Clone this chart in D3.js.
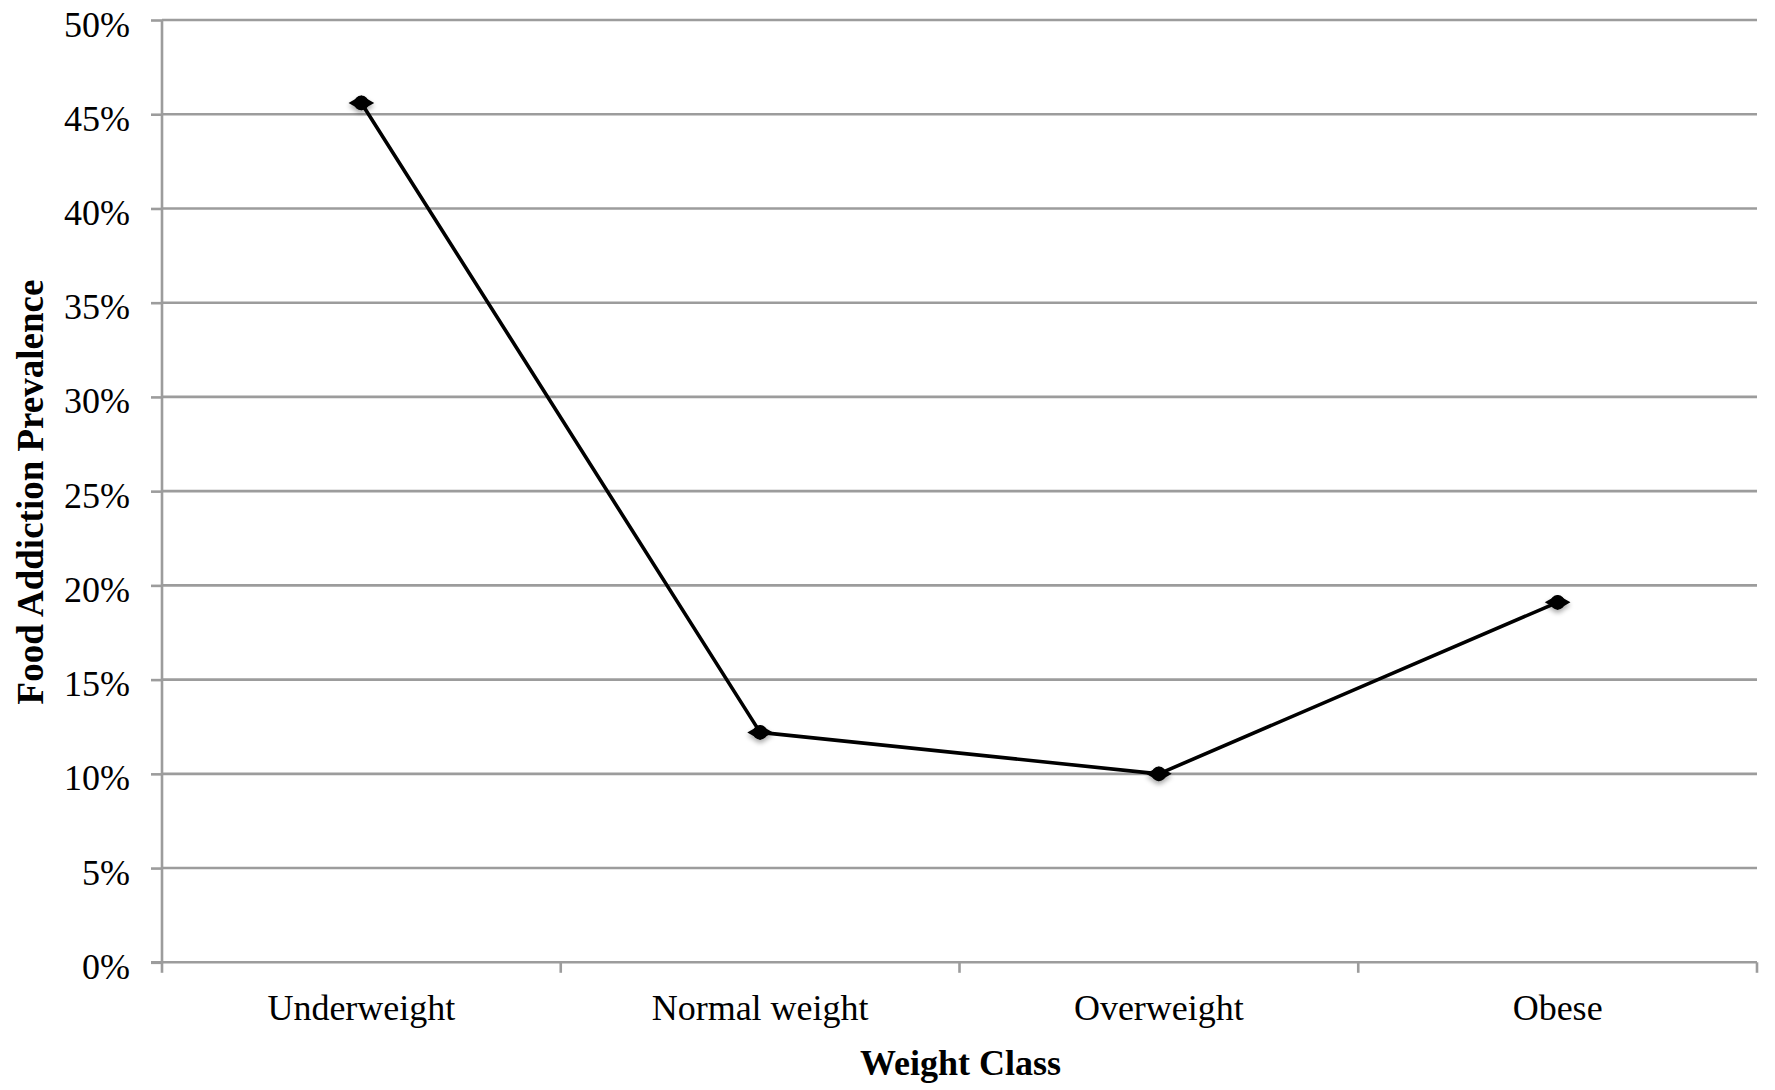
<!DOCTYPE html>
<html>
<head>
<meta charset="utf-8">
<script src="https://cdn.jsdelivr.net/npm/d3@7/dist/d3.min.js"></script>
<style>
  html, body { margin: 0; padding: 0; background: #fff; }
  svg { display: block; }
  text { font-family: "Liberation Serif", "Times New Roman", serif; fill: #000; }
</style>
</head>
<body>
<svg id="chart" width="1775" height="1090"></svg>
<script>
// Weight classes along the x axis
const categories = ["Underweight", "Normal weight", "Overweight", "Obese"];
// Food addiction prevalence for each class (fraction)
const prevalence = [0.456, 0.122, 0.100, 0.191];
// Y axis ticks
const yTicks = [0, 0.05, 0.10, 0.15, 0.20, 0.25, 0.30, 0.35, 0.40, 0.45, 0.50];
const yTickLabels = ["0%", "5%", "10%", "15%", "20%", "25%", "30%", "35%", "40%", "45%", "50%"];
const xTitle = "Weight Class";
const yTitle = "Food Addiction Prevalence";

(function () {
  const svg = d3.select("#chart");
  const plotLeft = 162, plotRight = 1757, plotTop = 20, plotBottom = 962.3;
  const gridColor = "#9c9c9c";

  const x = d3.scaleBand().domain(categories).range([plotLeft, plotRight]).padding(0);
  const y = d3.scaleLinear().domain([0, 0.5]).range([plotBottom, plotTop]);

  // soft shadow for the markers
  const defs = svg.append("defs");
  const f = defs.append("filter").attr("id", "mshadow")
    .attr("x", "-100%").attr("y", "-100%").attr("width", "300%").attr("height", "300%");
  f.append("feGaussianBlur").attr("in", "SourceAlpha").attr("stdDeviation", 2.5).attr("result", "b");
  f.append("feOffset").attr("in", "b").attr("dx", 0).attr("dy", 3).attr("result", "o");
  f.append("feComponentTransfer").attr("in", "o").attr("result", "s")
    .append("feFuncA").attr("type", "linear").attr("slope", 0.35);
  const fm = f.append("feMerge");
  fm.append("feMergeNode").attr("in", "s");
  fm.append("feMergeNode").attr("in", "SourceGraphic");

  const soft = defs.append("filter").attr("id", "soft");
  soft.append("feGaussianBlur").attr("stdDeviation", 0.6);

  // horizontal gridlines
  svg.append("g").selectAll("line").data(yTicks.filter(d => d > 0)).join("line")
    .attr("x1", plotLeft).attr("x2", plotRight)
    .attr("y1", d => y(d)).attr("y2", d => y(d))
    .attr("stroke", gridColor).attr("stroke-width", 2.6);

  // y axis
  const yAxis = d3.axisLeft(y).tickValues(yTicks)
    .tickFormat((d, i) => yTickLabels[i]).tickSize(11).tickPadding(21);
  const gy = svg.append("g").attr("transform", `translate(${plotLeft},0)`).call(yAxis);
  gy.select(".domain").attr("stroke", gridColor).attr("stroke-width", 2.6)
    .attr("d", `M0,${plotTop}V${plotBottom + 1}`);
  gy.selectAll(".tick line").attr("stroke", gridColor).attr("stroke-width", 2.6);
  gy.selectAll(".tick text").attr("font-size", 36).attr("dy", 16)
    .attr("font-family", "Liberation Serif").attr("fill", "#000");

  // x axis with ticks at category boundaries
  const gx = svg.append("g").attr("transform", `translate(0,${plotBottom})`);
  gx.append("line").attr("x1", plotLeft - 11).attr("x2", plotRight).attr("y1", 0).attr("y2", 0)
    .attr("stroke", gridColor).attr("stroke-width", 2.6);
  const bounds = categories.map(c => x(c)).concat([plotRight]);
  gx.selectAll("line.tk").data(bounds).join("line").attr("class", "tk")
    .attr("x1", d => d).attr("x2", d => d).attr("y1", 0).attr("y2", 10.5)
    .attr("stroke", gridColor).attr("stroke-width", 2.6);
  gx.selectAll("text.cat").data(categories).join("text").attr("class", "cat")
    .attr("x", d => x(d) + x.bandwidth() / 2).attr("y", 58)
    .attr("text-anchor", "middle").attr("font-size", 36).text(d => d);

  // axis titles
  svg.append("text").attr("x", (plotLeft + plotRight) / 2 + 1).attr("y", 1075)
    .attr("text-anchor", "middle").attr("font-size", 36).attr("font-weight", "bold")
    .text(xTitle);
  svg.append("text").attr("transform", "translate(43,492) rotate(-90)")
    .attr("text-anchor", "middle").attr("font-size", 37).attr("font-weight", "bold")
    .text(yTitle);

  // data line
  const pts = categories.map((c, i) => [x(c) + x.bandwidth() / 2, y(prevalence[i])]);
  svg.append("path").attr("d", d3.line()(pts))
    .attr("fill", "none").attr("stroke", "#000").attr("stroke-width", 3.6)
    .attr("stroke-linejoin", "round").attr("filter", "url(#soft)");

  // markers: rounded blob with small side points
  const mk = svg.append("g").attr("filter", "url(#mshadow)").selectAll("g").data(pts).join("g")
    .attr("transform", d => `translate(${d[0]},${d[1]})`);
  mk.append("path").attr("d", d3.symbol().type(d3.symbolCircle).size(170)).attr("fill", "#000");
  mk.append("path").attr("d", d3.symbol().type(d3.symbolDiamond).size(190))
    .attr("transform", "rotate(90)").attr("fill", "#000");
})();
</script>
</body>
</html>
